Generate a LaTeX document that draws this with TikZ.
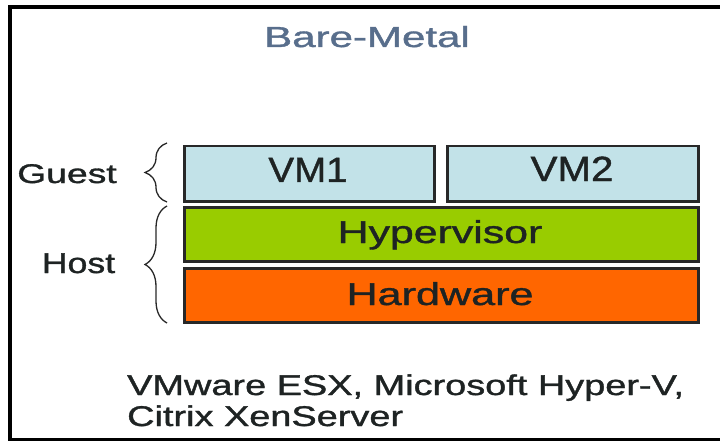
\documentclass[tikz,border=0pt]{standalone}
\usepackage{fontspec}
\setmainfont[FakeBold=1.1]{Liberation Sans}
\usetikzlibrary{decorations.pathreplacing}
\definecolor{titleblue}{RGB}{88,110,140}
\definecolor{vmblue}{RGB}{194,226,232}
\definecolor{hypgreen}{RGB}{153,204,0}
\definecolor{hworange}{RGB}{255,102,0}
\definecolor{edgegray}{RGB}{40,40,40}
\definecolor{txtdark}{RGB}{30,35,35}
\newcommand\sxt[3]{\scalebox{#1}[1]{\fontsize{#2pt}{#2pt}\selectfont #3}}
\tikzset{
  layerbox/.style={draw=edgegray, line width=2.5pt, inner sep=0pt, anchor=north west},
  lbl/.style={inner sep=0pt, anchor=base, text=txtdark},
  bracestyle/.style={decorate, decoration={brace, amplitude=22pt}, draw=edgegray, line width=1.3pt},
}
\begin{document}
\begin{tikzpicture}[x=1pt,y=-1pt]
\useasboundingbox (0,0) rectangle (720,441);
\fill[white] (0,0) rectangle (720,441);
% frame
\draw[line width=4pt] (720,7) -- (10,7) -- (10,439.5) -- (720,439.5);
% title
\node[lbl, text=titleblue] (title) at (367,47) {\sxt{1.45}{29}{Bare-Metal}};
% boxes
\node[layerbox, fill=vmblue, minimum width=250pt, minimum height=55pt] (vm1) at (183,145) {};
\node[layerbox, fill=vmblue, minimum width=251pt, minimum height=55pt] (vm2) at (446,145) {};
\node[layerbox, fill=hypgreen, minimum width=514pt, minimum height=54pt] (hyp) at (183,206) {};
\node[layerbox, fill=hworange, minimum width=514pt, minimum height=54pt] (hw) at (183,267) {};
% box texts
\node[lbl] (vm1t) at (308,182) {\sxt{1.1}{35}{VM1}};
\node[lbl] (vm2t) at (572,181) {\sxt{1.15}{35}{VM2}};
\node[lbl] (hypt) at (440,243) {\sxt{1.36}{31.5}{Hypervisor}};
\node[lbl] (hwt) at (440,305) {\sxt{1.37}{31.5}{Hardware}};
% side labels
\node[lbl] (guest) at (67,183) {\sxt{1.38}{27}{Guest}};
\node[lbl] (host) at (78.5,273) {\sxt{1.25}{28.5}{Host}};
% braces
\coordinate (gb1) at (167,202);
\coordinate (gb2) at (167,143);
\coordinate (hb1) at (167,323);
\coordinate (hb2) at (167,206);
\draw[bracestyle] (gb1) -- (gb2);
\draw[bracestyle] (hb1) -- (hb2);
% bottom text
\node[lbl, anchor=base west] (ex1) at (127,395) {\sxt{1.33}{28.5}{VMware ESX, Microsoft Hyper-V,}};
\node[lbl, anchor=base west] (ex2) at (127,426) {\sxt{1.33}{28.5}{Citrix XenServer}};
\end{tikzpicture}
\end{document}
